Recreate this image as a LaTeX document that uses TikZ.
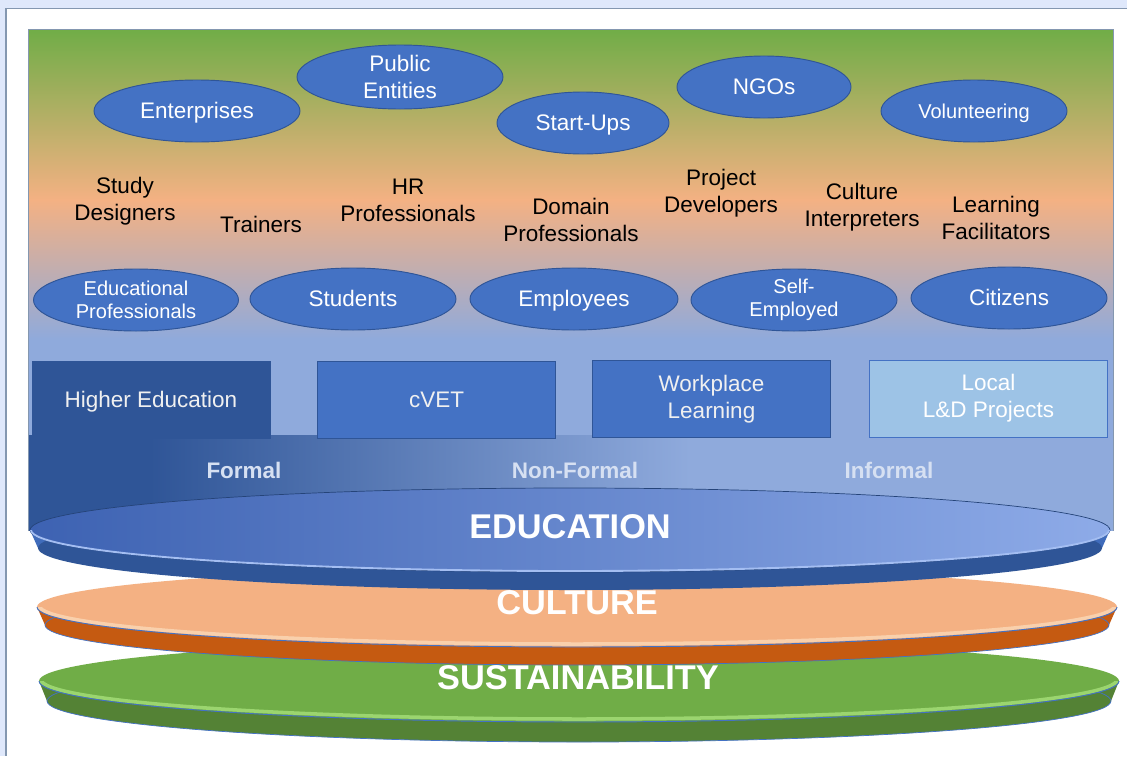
\documentclass[tikz,border=0pt]{standalone}
\usepackage{fontspec}
\setmainfont{Liberation Sans}
\usepackage{xcolor}
\usepackage{tikz}
\usetikzlibrary{shapes.geometric}
\definecolor{panelbg}{HTML}{DFE8FB}
\definecolor{panelline}{HTML}{8497B0}
\definecolor{leafgreen}{HTML}{70AD47}
\definecolor{grassglow}{HTML}{A6E07A}
\definecolor{peach}{HTML}{F4B183}
\definecolor{cream}{HTML}{FDE6C8}
\definecolor{skyblue}{HTML}{8FAADC}
\definecolor{navy}{HTML}{2F5597}
\definecolor{midblue}{HTML}{4472C4}
\definecolor{paleblue}{HTML}{9DC3E6}
\definecolor{rust}{HTML}{C55A11}
\definecolor{moss}{HTML}{548235}
\definecolor{edudark}{HTML}{3D62B2}
\definecolor{edumid}{HTML}{7D9DE0}
\definecolor{edulight}{HTML}{8EABE8}
\definecolor{eduglow}{HTML}{A4BEF2}
\definecolor{modetext}{HTML}{D6E0F2}
\newcommand{\ppstrut}{\rule[-0.22em]{0pt}{1.14em}}
\tikzstyle{actor} = [ellipse, draw=navy, line width=0.8pt, fill=midblue, text=white, align=center, inner sep=0pt, minimum height=1.86cm, font=\fontsize{19.2}{23.5}\selectfont]
\tikzstyle{oneline} = [execute at begin node=\ppstrut]
\tikzstyle{smalltext} = [font=\fontsize{17.1}{20}\selectfont]
\tikzstyle{role} = [align=center, text=black, inner sep=0pt, font=\fontsize{19.2}{23.2}\selectfont]
\tikzstyle{venue} = [rectangle, minimum width=7.14cm, minimum height=2.31cm, draw=navy, line width=0.8pt, fill=midblue, text=white!94!black, align=center, font=\fontsize{19.2}{23.2}\selectfont]
\tikzstyle{mode} = [text=modetext, font=\bfseries\fontsize{19.2}{23}\selectfont]
\tikzstyle{layer} = [text=white, font=\bfseries\fontsize{29.3}{32}\selectfont]

\begin{document}
\begin{tikzpicture}[x=0.03cm, y=-0.03cm]

	\useasboundingbox (0,0) rectangle (1127,756);
	\fill[panelbg] (0,0) rectangle (1127,756);
	\fill[white] (6,8.5) rectangle (1127,756);
	\draw[panelline, line width=1.5pt] (1127,8.5) -- (6,8.5) -- (6,756);
	
	% background of the frame
	\shade[top color=leafgreen, bottom color=peach] (28,29) rectangle (1113,200);
	\shade[top color=peach, bottom color=skyblue] (28,199.5) rectangle (1113,340);
	\fill[skyblue] (28,339.5) rectangle (1113,436);
	\fill[navy] (28,435) rectangle (150,531);
	\shade[left color=navy, right color=skyblue] (149.5,435) rectangle (690,531);
	\fill[skyblue] (689.5,435) rectangle (1113,531);
	\draw[panelline, line width=0.8pt] (28,531) -- (28,29) -- (1113,29) -- (1113,531);
	
	% sustainability
	\fill[moss] (39,681) -- (1119,681) -- (1111,701) -- (47,701) -- cycle;
	\filldraw[fill=moss, draw=midblue, line width=0.6pt] (579,701) ellipse [x radius=532, y radius=41];
	\fill[leafgreen] (579,681) ellipse [x radius=540, y radius=41];
	\begin{scope}
		\clip (0,681) rectangle (1127,740);
		\draw[grassglow, line width=3pt, opacity=0.8] (579,679.5) ellipse [x radius=538, y radius=39.5];
		\draw[midblue, line width=0.8pt] (579,681) ellipse [x radius=540, y radius=41];
	\end{scope}
	
	% culture
	\fill[rust] (37,607) -- (1117,607) -- (1109,625) -- (45,625) -- cycle;
	\filldraw[fill=rust, draw=midblue, line width=0.6pt] (577,625) ellipse [x radius=532, y radius=40];
	\fill[peach] (577,607) ellipse [x radius=540, y radius=40];
	\begin{scope}
		\clip (0,607) rectangle (1127,660);
		\draw[cream, line width=3pt, opacity=0.6] (577,605.5) ellipse [x radius=538, y radius=38.5];
		\draw[midblue, line width=0.8pt] (577,607) ellipse [x radius=540, y radius=40];
	\end{scope}
	
	% education
	\fill[midblue!80!navy] (30,530) -- (1110,530) -- (1102,548) -- (38,548) -- cycle;
	\fill[navy] (570,548) ellipse [x radius=532, y radius=42];
	\shade[left color=edudark, middle color=edumid, right color=edulight] (570,530) ellipse [x radius=540, y radius=42];
	\draw[navy!80!black, line width=0.6pt] (570,530) ellipse [x radius=540, y radius=42];
	\begin{scope}
		\clip (0,530) rectangle (1127,580);
		\draw[eduglow, line width=1.6pt] (570,530) ellipse [x radius=539, y radius=41];
	\end{scope}
	
	\node (p1) [actor, oneline, minimum width=6.18cm] at (197,111) {Enterprises};
	\node (p2) [actor, minimum width=6.18cm, minimum height=1.92cm] at (400,77) {Public\\Entities};
	\node (p3) [actor, oneline, minimum width=5.16cm] at (583,123) {Start-Ups};
	\node (p4) [actor, oneline, minimum width=5.22cm] at (764,87) {NGOs};
	\node (p5) [actor, oneline, smalltext, minimum width=5.58cm] at (974,111) {Volunteering};
	
	\node (r1) [role] at (125,201) {Study\\Designers};
	\node (r2) [role] at (261,224) {Trainers};
	\node (r3) [role] at (408,200) {HR\\Professionals};
	\node (r4) [role] at (571,220) {Domain\\Professionals};
	\node (r5) [role] at (721,193) {Project\\Developers};
	\node (r6) [role] at (862,207) {Culture\\Interpreters};
	\node (r7) [role] at (996,218) {Learning\\Facilitators};
	
	\node (p6) [actor, smalltext, minimum width=6.15cm] at (136,300) {Educational\\Professionals};
	\node (p7) [actor, oneline, minimum width=6.18cm] at (353,299) {Students};
	\node (p8) [actor, oneline, minimum width=6.24cm] at (574,299) {Employees};
	\node (p9) [actor, smalltext, minimum width=6.18cm] at (794,300) {Self-\\Employed};
	\node (p10) [actor, oneline, minimum width=5.88cm] at (1009,298) {Citizens};
	
	\node (b1) [venue, oneline, fill=navy, draw=navy] at (151,399.5) {Higher Education};
	\node (b2) [venue, oneline] at (436.5,399.5) {cVET};
	\node (b3) [venue] at (711.5,399) {Workplace\\Learning};
	\node (b4) [venue, fill=paleblue, draw=midblue, text=white] at (988.5,398.5) {Local\\L\&D Projects};
	
	\node (m1) [mode] at (244,470) {Formal};
	\node (m2) [mode] at (575,470) {Non-Formal};
	\node (m3) [mode] at (889,470) {Informal};
	
	\node (l1) [layer] at (570,527) {EDUCATION};
	\node (l2) [layer] at (577,603) {CULTURE};
	\node (l3) [layer] at (578,678) {SUSTAINABILITY};
	
\end{tikzpicture}
\end{document}
